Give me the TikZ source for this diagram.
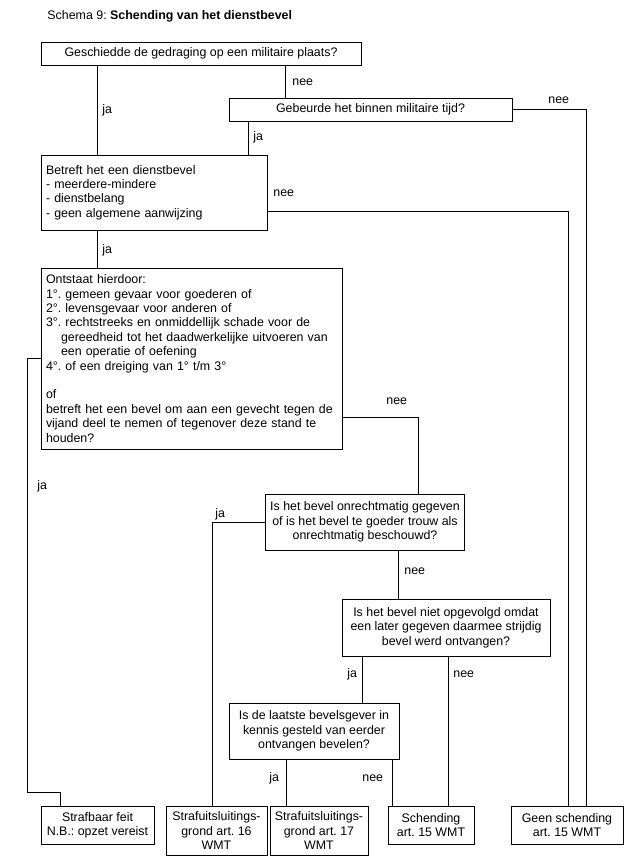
\documentclass[tikz,border=0pt]{standalone}
\usepackage{fontspec}
\setmainfont{Liberation Sans}
\frenchspacing

\begin{document}
\begin{tikzpicture}[x=1pt, y=-1pt,
    font=\fontsize{12.4}{14.4}\selectfont,
    line width=0.9pt,
    box/.style={shape=rectangle, draw, inner xsep=5pt, inner ysep=2pt, align=center},
    textbox/.style={box, align=left},
    answer/.style={anchor=base west, inner sep=0pt}]

    \node[name=title, anchor=base west, inner sep=0pt] at (47,19.5)
      {Schema 9: \textbf{Schending van het dienstbevel}};

    % questions
    \node[name=place, box,
      minimum width=320pt, minimum height=23pt] at (201,53.5)
      {Geschiedde de gedraging op een militaire plaats?};

    \node[name=time, box,
      minimum width=283pt, minimum height=23pt] at (370.5,109.5)
      {Gebeurde het binnen militaire tijd?};

    \node[name=order, textbox,
      text width=216pt, minimum height=75pt] at (154,192.5)
      {Betreft het een dienstbevel\\
       - meerdere-mindere\\
       - dienstbelang\\
       - geen algemene aanwijzing};

    \node[name=danger, textbox,
      text width=291pt, minimum height=181pt] at (191.5,358.5)
      {Ontstaat hierdoor:\\
       1°. gemeen gevaar voor goederen of\\
       2°. levensgevaar voor anderen of\\
       3°. rechtstreeks en onmiddellijk schade voor de\\
       \hspace*{15pt}gereedheid tot het daadwerkelijke uitvoeren van\\
       \hspace*{15pt}een operatie of oefening\\
       4°. of een dreiging van 1° t/m 3°\\[14.4pt]
       of\\
       betreft het een bevel om aan een gevecht tegen de\\
       vijand deel te nemen of tegenover deze stand te\\
       houden?};

    \node[name=unlawful, box,
      minimum width=196pt, minimum height=56pt] at (365,522)
      {Is het bevel onrechtmatig gegeven\\
       of is het bevel te goeder trouw als\\
       onrechtmatig beschouwd?};

    \node[name=later, box,
      minimum width=208pt, minimum height=57pt] at (446,627.5)
      {Is het bevel niet opgevolgd omdat\\
       een later gegeven daarmee strijdig\\
       bevel werd ontvangen?};

    \node[name=informed, box,
      minimum width=170pt, minimum height=56pt] at (314,731)
      {Is de laatste bevelsgever in\\
       kennis gesteld van eerder\\
       ontvangen bevelen?};

    % outcomes
    \node[name=offence, box,
      minimum width=113pt, minimum height=38pt] at (97.5,825)
      {Strafbaar feit\\ N.B.: opzet vereist};

    \node[name=ground16, box, inner xsep=2pt,
      minimum width=101pt, minimum height=49pt] at (216.5,830.5)
      {Strafuitsluitings-\\ grond art. 16\\ WMT};

    \node[name=ground17, box, inner xsep=2pt,
      minimum width=98pt, minimum height=49pt] at (319,830.5)
      {Strafuitsluitings-\\ grond art. 17\\ WMT};

    \node[name=breach, box,
      minimum width=86pt, minimum height=38pt] at (431,825)
      {Schending\\ art. 15 WMT};

    \node[name=nobreach, box,
      minimum width=112pt, minimum height=38pt] at (567,825)
      {Geen schending\\ art. 15 WMT};

    % connectors
    \draw (place.south -| 97,0) -- (order.north -| 97,0);
    \draw (place.south -| 285,0) -- (time.north -| 285,0);
    \draw (time.south -| 248,0) -- (order.north -| 248,0);
    \draw (time.east) -| (nobreach.north -| 586,0);
    \draw (order.east |- 0,211) -| (nobreach.north -| 568,0);
    \draw (order.south -| 97,0) -- (danger.north -| 97,0);
    \draw (danger.west) -| (27,792) -| (offence.north -| 60,0);
    \draw (danger.east |- 0,417) -| (unlawful.north -| 418,0);
    \draw (unlawful.west) -| (ground16.north -| 212,0);
    \draw (unlawful.south -| 398,0) -- (later.north -| 398,0);
    \draw (later.south -| 362,0) -- (informed.north -| 362,0);
    \draw (later.south -| 448,0) -- (breach.north -| 448,0);
    \draw (informed.south -| 286,0) -- (ground17.north -| 286,0);
    \draw (informed.south -| 392,0) -- (breach.north -| 392,0);

    % answers
    \node[name=ja-place, answer] at (102,113.5) {ja};
    \node[name=nee-place, answer] at (292,85.5) {nee};
    \node[name=ja-time, answer] at (253,140.5) {ja};
    \node[name=nee-time, answer] at (548,103.5) {nee};
    \node[name=nee-order, answer] at (273,196.5) {nee};
    \node[name=ja-order, answer] at (102,253.5) {ja};
    \node[name=ja-danger, answer] at (37,489.5) {ja};
    \node[name=nee-danger, answer] at (386,404.5) {nee};
    \node[name=ja-unlawful, answer] at (215,517.5) {ja};
    \node[name=nee-unlawful, answer] at (404,574.5) {nee};
    \node[name=ja-later, answer] at (347,677.5) {ja};
    \node[name=nee-later, answer] at (453,677.5) {nee};
    \node[name=ja-informed, answer] at (269,781.5) {ja};
    \node[name=nee-informed, answer] at (362,781.5) {nee};

    \path [use as bounding box] (0,0) rectangle (627,856);
  \end{tikzpicture}
\end{document}
